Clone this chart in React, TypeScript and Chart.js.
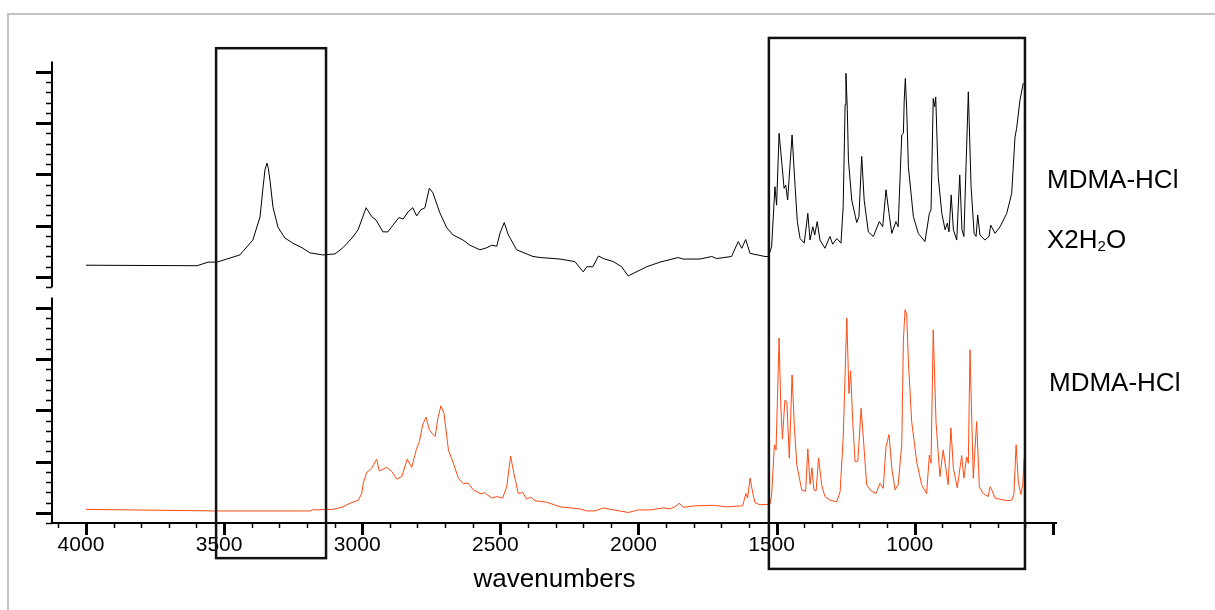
import React, { useEffect, useRef } from 'react';
import Chart from 'chart.js/auto';

// ---- Spectrum: MDMA-HCl x 2H2O (upper trace, black) ----
const WN_HYDRATE = [
  4000, 3598, 3558, 3526, 3443, 3396, 3370, 3359, 3352, 3345,
  3340, 3334, 3323, 3305, 3280, 3251, 3218, 3189, 3142, 3099,
  3070, 3037, 3015, 2986, 2966, 2950, 2925, 2907, 2889, 2867,
  2852, 2834, 2817, 2803, 2788, 2773, 2757, 2744, 2719, 2694,
  2671, 2635, 2610, 2574, 2549, 2531, 2513, 2501, 2486, 2471,
  2441, 2382, 2356, 2284, 2230, 2200, 2187, 2165, 2145, 2127,
  2091, 2061, 2037, 2019, 1970, 1922, 1856, 1838, 1777, 1735,
  1717, 1663, 1639, 1626, 1612, 1596, 1542, 1530, 1518, 1506,
  1500, 1491, 1482, 1473, 1467, 1460, 1444, 1433, 1425, 1415,
  1400, 1387, 1379, 1369, 1362, 1353, 1343, 1325, 1307, 1297,
  1282, 1267, 1259, 1252, 1249, 1244, 1240, 1228, 1210, 1202,
  1192, 1183, 1168, 1150, 1128, 1116, 1104, 1093, 1083, 1068,
  1060, 1047, 1041, 1038, 1034, 1029, 1023, 1005, 987, 963,
  947, 941, 933, 928, 924, 915, 902, 890, 882, 876,
  868, 860, 848, 837, 829, 822, 806, 796, 785, 778,
  772, 764, 746, 731, 725, 709, 691, 667, 649, 637,
  631, 619, 607,
];
const ABS_HYDRATE = [
  0.23, 0.22, 0.29, 0.29, 0.43, 0.72, 1.17, 1.75, 2.09, 2.22,
  2.12, 1.89, 1.36, 0.97, 0.76, 0.66, 0.57, 0.47, 0.43, 0.45,
  0.57, 0.76, 0.92, 1.35, 1.18, 1.11, 0.88, 0.88, 1.01, 1.16,
  1.13, 1.27, 1.35, 1.19, 1.31, 1.35, 1.73, 1.64, 1.25, 0.96,
  0.82, 0.72, 0.62, 0.53, 0.57, 0.62, 0.60, 0.86, 1.06, 0.82,
  0.53, 0.40, 0.38, 0.35, 0.30, 0.10, 0.20, 0.20, 0.41, 0.36,
  0.30, 0.20, 0.02, 0.07, 0.20, 0.29, 0.38, 0.35, 0.35, 0.40,
  0.36, 0.40, 0.69, 0.56, 0.73, 0.46, 0.40, 0.40, 0.59, 1.76,
  1.40, 2.80, 2.28, 1.73, 1.79, 1.50, 2.77, 1.76, 1.08, 0.75,
  0.66, 1.24, 0.72, 0.98, 0.82, 1.08, 0.72, 0.56, 0.79, 0.64,
  0.75, 0.66, 1.37, 3.36, 3.97, 3.26, 2.28, 1.50, 1.06, 1.18,
  2.35, 1.50, 0.88, 0.79, 1.08, 0.98, 1.70, 1.24, 0.85, 1.08,
  0.98, 2.77, 2.80, 3.45, 3.87, 3.26, 2.15, 1.18, 0.85, 0.69,
  1.24, 1.31, 3.48, 3.32, 3.51, 1.96, 1.24, 0.92, 1.05, 0.88,
  1.60, 0.92, 0.72, 1.99, 0.92, 0.79, 3.61, 1.76, 0.85, 0.79,
  1.21, 0.82, 0.72, 0.79, 1.01, 0.85, 0.98, 1.24, 1.63, 2.73,
  2.90, 3.45, 3.78,
];

// ---- Spectrum: MDMA-HCl anhydrous (lower trace, orange) ----
const WN_ANHYDROUS = [
  4000, 3527, 3225, 3189, 3177, 3165, 3129, 3105, 3069, 3044,
  3014, 3002, 2996, 2984, 2972, 2965, 2948, 2938, 2911, 2893,
  2875, 2857, 2837, 2821, 2803, 2793, 2781, 2769, 2757, 2745,
  2736, 2725, 2715, 2704, 2688, 2670, 2652, 2634, 2616, 2598,
  2568, 2558, 2531, 2513, 2492, 2477, 2463, 2451, 2435, 2419,
  2405, 2390, 2375, 2332, 2284, 2212, 2187, 2157, 2127, 2091,
  2037, 2001, 1958, 1910, 1886, 1868, 1852, 1838, 1795, 1729,
  1681, 1623, 1611, 1605, 1596, 1586, 1578, 1560, 1524, 1518,
  1508, 1502, 1491, 1485, 1479, 1470, 1463, 1454, 1444, 1436,
  1427, 1409, 1395, 1387, 1379, 1372, 1365, 1357, 1348, 1337,
  1325, 1307, 1282, 1270, 1259, 1246, 1238, 1232, 1225, 1216,
  1206, 1194, 1186, 1174, 1156, 1140, 1126, 1114, 1104, 1093,
  1083, 1071, 1060, 1047, 1041, 1035, 1029, 1023, 1011, 993,
  975, 957, 947, 941, 933, 923, 909, 897, 879, 869,
  860, 846, 830, 822, 812, 806, 800, 788, 776, 766,
  752, 734, 727, 721, 709, 667, 649, 641, 633, 625,
  616, 609, 604,
];
const ABS_ANHYDROUS = [
  0.07, 0.04, 0.04, 0.04, 0.07, 0.06, 0.07, 0.07, 0.12, 0.19,
  0.25, 0.38, 0.58, 0.79, 0.84, 0.88, 1.05, 0.82, 0.89, 0.81,
  0.66, 0.71, 1.05, 0.89, 1.26, 1.39, 1.72, 1.87, 1.62, 1.54,
  1.49, 1.88, 2.09, 1.94, 1.23, 0.97, 0.68, 0.57, 0.58, 0.45,
  0.37, 0.40, 0.29, 0.32, 0.29, 0.51, 1.11, 0.77, 0.38, 0.40,
  0.27, 0.31, 0.24, 0.21, 0.12, 0.08, 0.04, 0.04, 0.10, 0.06,
  0.01, 0.06, 0.06, 0.10, 0.08, 0.12, 0.19, 0.11, 0.14, 0.15,
  0.12, 0.14, 0.38, 0.29, 0.68, 0.38, 0.20, 0.16, 0.17, 0.35,
  1.33, 1.23, 3.41, 2.11, 1.44, 2.20, 2.17, 1.07, 2.69, 1.72,
  0.94, 0.45, 0.42, 1.25, 0.56, 0.88, 0.45, 0.43, 1.07, 0.55,
  0.32, 0.25, 0.22, 0.42, 1.46, 3.80, 2.33, 2.77, 1.85, 1.00,
  1.01, 2.04, 1.46, 0.55, 0.42, 0.38, 0.58, 0.48, 1.29, 1.53,
  0.87, 0.45, 0.55, 1.33, 3.37, 3.96, 3.86, 2.95, 1.78, 1.00,
  0.55, 0.38, 1.13, 0.97, 3.57, 1.78, 0.71, 1.23, 0.55, 1.66,
  0.87, 0.49, 1.12, 0.68, 1.09, 0.97, 3.18, 0.68, 1.78, 0.51,
  0.38, 0.32, 0.51, 0.45, 0.29, 0.24, 0.25, 0.36, 1.33, 0.61,
  0.36, 0.55, 1.07,
];

const SERIES_NAMES = ['MDMA-HCl X2H2O', 'MDMA-HCl'];
const X_LABEL_TICKS = [4000, 3500, 3000, 2500, 2000, 1500, 1000, 500];
const X_UNLABELED = [500];
const X_AXIS_TITLE = 'wavenumbers';
// highlighted regions (wavenumber ranges)
const BOX_WN_FROM = [3529, 1528];
const BOX_WN_TO = [3131, 601];
const BOX_TOP = [4.46, 4.66]; // in upper-trace units
const BOX_BOTTOM = [-5.48, -5.69];

const FONT = '"Liberation Sans", Arial, sans-serif';
const ORANGE = '#ff4a12';

const decorPlugin = {
  id: 'decor',
  beforeDraw(chart: any) {
    const ctx = chart.ctx;
    ctx.save();
    ctx.fillStyle = '#ffffff';
    ctx.fillRect(0, 0, chart.width, chart.height);
    ctx.strokeStyle = '#c4c4c4';
    ctx.lineWidth = 2;
    ctx.beginPath();
    ctx.moveTo(8, chart.height);
    ctx.lineTo(8, 14);
    ctx.lineTo(chart.width, 14);
    ctx.stroke();
    ctx.restore();
  },
  afterDraw(chart: any) {
    const ctx = chart.ctx;
    const { left, right, bottom } = chart.chartArea;
    const xs = chart.scales.x;
    ctx.save();
    ctx.strokeStyle = '#000';
    ctx.lineCap = 'butt';
    // x axis line
    ctx.lineWidth = 2;
    ctx.beginPath();
    ctx.moveTo(left, bottom);
    ctx.lineTo(right, bottom);
    ctx.stroke();
    // x ticks
    for (let w = 4100; w >= 500; w -= 100) {
      const major = w % 500 === 0;
      const px = Math.round(xs.getPixelForValue(w)) + 0.5;
      ctx.lineWidth = major ? 3 : 1.5;
      ctx.beginPath();
      ctx.moveTo(px, bottom);
      ctx.lineTo(px, bottom + (major ? 12 : 5));
      ctx.stroke();
    }
    // y axis segments
    ['yTop', 'yBot'].forEach((id) => {
      const ys = chart.scales[id];
      ctx.lineWidth = 2;
      ctx.beginPath();
      ctx.moveTo(left, ys.getPixelForValue(4.2));
      ctx.lineTo(left, ys.getPixelForValue(-0.2));
      ctx.stroke();
      for (let k = -1; k <= 20; k++) {
        const v = k / 5;
        const major = k % 5 === 0;
        const py = Math.round(ys.getPixelForValue(v)) + 0.5;
        ctx.lineWidth = major ? 3 : 1.5;
        ctx.beginPath();
        ctx.moveTo(left, py);
        ctx.lineTo(left - (major ? 16 : 6), py);
        ctx.stroke();
      }
    });
    // highlight boxes
    const yt = chart.scales.yTop;
    ctx.lineWidth = 2.5;
    ctx.strokeStyle = '#111';
    for (let i = 0; i < BOX_WN_FROM.length; i++) {
      const x1 = xs.getPixelForValue(BOX_WN_FROM[i]);
      const x2 = xs.getPixelForValue(BOX_WN_TO[i]);
      const y1 = yt.getPixelForValue(BOX_TOP[i]);
      const y2 = yt.getPixelForValue(BOX_BOTTOM[i]);
      ctx.strokeRect(x1, y1, x2 - x1, y2 - y1);
    }
    // series labels
    const yb = chart.scales.yBot;
    const lx = right - 10;
    ctx.fillStyle = '#000';
    ctx.textBaseline = 'alphabetic';
    ctx.textAlign = 'left';
    ctx.font = `26px ${FONT}`;
    ctx.fillText('MDMA-HCl', lx, yt.getPixelForValue(1.73));
    const y2 = yt.getPixelForValue(0.565);
    let cx = lx;
    ctx.fillText('X2H', cx, y2);
    cx += ctx.measureText('X2H').width;
    ctx.font = `15px ${FONT}`;
    ctx.fillText('2', cx, y2 + 3);
    cx += ctx.measureText('2').width;
    ctx.font = `26px ${FONT}`;
    ctx.fillText('O', cx, y2);
    ctx.fillText('MDMA-HCl', lx + 2, yb.getPixelForValue(2.38));
    ctx.restore();
  },
};

export default function App() {
  const ref = useRef<HTMLCanvasElement | null>(null);
  useEffect(() => {
    if (!ref.current) return;
    const chart = new Chart(ref.current, {
      type: 'line',
      data: {
        datasets: [
          {
            label: SERIES_NAMES[0],
            data: WN_HYDRATE.map((x, i) => ({ x, y: ABS_HYDRATE[i] })),
            borderColor: '#000',
            borderWidth: 1,
            pointRadius: 0,
            tension: 0,
            yAxisID: 'yTop',
          },
          {
            label: SERIES_NAMES[1],
            data: WN_ANHYDROUS.map((x, i) => ({ x, y: ABS_ANHYDROUS[i] })),
            borderColor: ORANGE,
            borderWidth: 1,
            pointRadius: 0,
            tension: 0,
            yAxisID: 'yBot',
          },
        ],
      },
      options: {
        animation: false,
        responsive: false,
        devicePixelRatio: 1,
        layout: { padding: { left: 52, right: 158, top: 62, bottom: 14.6 } },
        plugins: { legend: { display: false }, tooltip: { enabled: false } },
        scales: {
          x: {
            type: 'linear',
            reverse: true,
            min: 485,
            max: 4123,
            afterBuildTicks: (s: any) => {
              s.ticks = X_LABEL_TICKS.map((v) => ({ value: v }));
            },
            grid: {
              display: true,
              drawOnChartArea: false,
              drawTicks: true,
              tickLength: 6,
              color: 'rgba(0,0,0,0)',
            },
            border: { display: false },
            ticks: {
              autoSkip: false,
              maxRotation: 0,
              padding: 4,
              labelOffset: -5,
              color: '#000',
              font: { family: FONT, size: 21 },
              callback: (v: any) => (X_UNLABELED.includes(Number(v)) ? '' : String(v)),
            },
            title: {
              display: true,
              text: X_AXIS_TITLE,
              color: '#000',
              font: { family: FONT, size: 26 },
              padding: { top: 2, bottom: 0 },
            },
          },
          yTop: {
            type: 'linear',
            display: false,
            min: -4.795,
            max: 4.191,
          },
          yBot: {
            type: 'linear',
            display: false,
            min: -0.195,
            max: 8.791,
          },
        },
      } as any,
      plugins: [decorPlugin],
    });
    return () => chart.destroy();
  }, []);
  return (
    <div style={{ position: 'fixed', left: 0, top: 0, width: 1215, height: 610, background: '#fff' }}>
      <canvas ref={ref} width={1215} height={610} style={{ display: 'block', width: 1215, height: 610 }} />
    </div>
  );
}
